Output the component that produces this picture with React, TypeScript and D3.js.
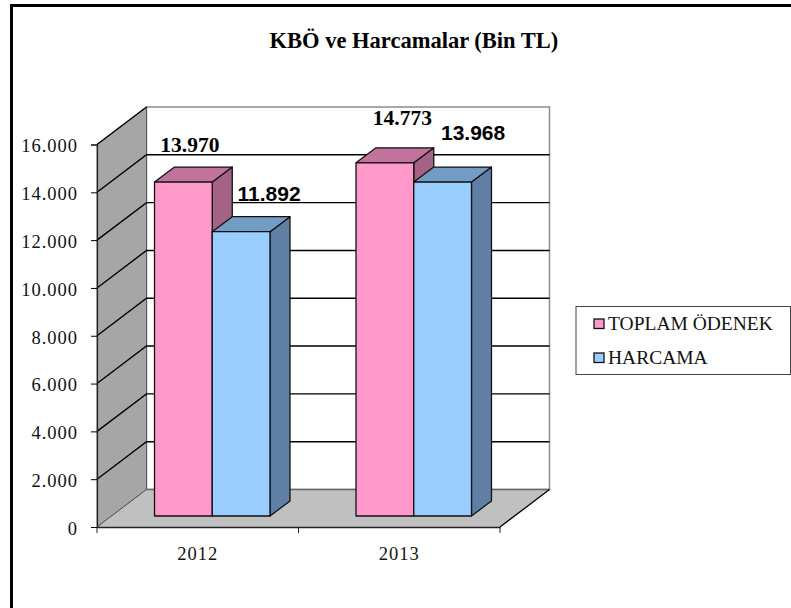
import React, { useEffect, useRef } from "react";
import * as d3 from "d3";

const categories = ["2012", "2013"];
const seriesNames = ["TOPLAM ÖDENEK", "HARCAMA"];
const toplamOdenek = [13970, 14773];
const harcama = [11892, 13968];
const toplamLabels = ["13.970", "14.773"];
const harcamaLabels = ["11.892", "13.968"];
const yTicks = [0, 2000, 4000, 6000, 8000, 10000, 12000, 14000, 16000];

const W = 791;
const H = 608;
const serif = "'Liberation Serif', 'Times New Roman', serif";
const sans = "'Liberation Sans', Arial, sans-serif";

const App = () => {
  const svgRef = useRef<SVGSVGElement>(null);

  useEffect(() => {
    const svg = d3.select(svgRef.current);
    svg.selectAll("*").remove();

    // front plane of the box and how far the back wall is pushed
    const left = 97;
    const right = 500;
    const bottom = 527;
    const top = 144.5;
    const depth = { x: 49.5, y: -37.5 };

    const x = d3.scaleBand().domain(categories).range([left, right]);
    const y = d3.scaleLinear().domain([0, 16000]).range([bottom, top]);
    const inner = d3
      .scaleBand()
      .domain(seriesNames)
      .range([0, x.bandwidth()])
      .paddingOuter(0.745)
      .paddingInner(0);

    const line = (pts: [number, number][]) => d3.line()(pts) + "Z";

    // outer frame: only the top and left edges show in the picture
    svg
      .append("path")
      .attr("d", `M11.5,${H}V5.5H${W}`)
      .attr("fill", "none")
      .attr("stroke", "#000")
      .attr("stroke-width", 3);

    svg
      .append("text")
      .attr("x", 414)
      .attr("y", 47.5)
      .attr("text-anchor", "middle")
      .attr("font-family", serif)
      .attr("font-weight", "bold")
      .attr("font-size", 22.5)
      .text("KBÖ ve Harcamalar (Bin TL)");

    const bx = left + depth.x;
    const bRight = right + depth.x;
    const by0 = bottom + depth.y;
    const byTop = top + depth.y;

    // back wall
    svg
      .append("rect")
      .attr("x", bx)
      .attr("y", byTop)
      .attr("width", bRight - bx)
      .attr("height", by0 - byTop)
      .attr("fill", "#fff")
      .attr("stroke", "#8c8c8c")
      .attr("stroke-width", 1.5);

    // side wall
    svg
      .append("path")
      .attr("d", line([[left, bottom], [left, top], [bx, byTop], [bx, by0]]))
      .attr("fill", "#a6a6a6")
      .attr("stroke", "#555")
      .attr("stroke-width", 1);

    // floor
    svg
      .append("path")
      .attr("d", line([[left, bottom], [bx, by0], [bRight, by0], [right, bottom]]))
      .attr("fill", "#c0c0c0");
    svg
      .append("path")
      .attr("d", `M${bx},${by0}H${bRight}`)
      .attr("stroke", "#666")
      .attr("stroke-width", 1.5);
    svg
      .append("path")
      .attr("d", `M${left},${bottom}L${bx},${by0}`)
      .attr("stroke", "#555")
      .attr("stroke-width", 1);
    svg
      .append("path")
      .attr("d", `M${right},${bottom}L${bRight},${by0}`)
      .attr("stroke", "#000")
      .attr("stroke-width", 1.3);

    // gridlines run along the side wall and across the back
    const grid = svg.append("g").attr("fill", "none").attr("stroke", "#000").attr("stroke-width", 1.4);
    yTicks.slice(1).forEach((t) => {
      const yy = y(t);
      const d =
        t === 16000
          ? `M${left},${yy}L${bx},${yy + depth.y}`
          : `M${left},${yy}L${bx},${yy + depth.y}H${bRight}`;
      grid.append("path").attr("d", d);
    });

    // axes
    const yAxis = svg
      .append("g")
      .attr("transform", `translate(${left},0)`)
      .call(
        d3
          .axisLeft(y)
          .tickValues(yTicks)
          .tickSize(6)
          .tickPadding(13)
          .tickFormat((d) => d3.format(",")(d as number).replace(",", "."))
      );
    yAxis.select(".domain").attr("stroke", "#222").attr("stroke-width", 1.2);
    yAxis
      .selectAll("text")
      .attr("dy", ".4em")
      .attr("font-family", serif)
      .attr("font-size", 18.5)
      .attr("fill", "#111")
      .style("letter-spacing", "1px");

    const xAxis = svg
      .append("g")
      .attr("transform", `translate(0,${bottom})`)
      .call(d3.axisBottom(x).tickSize(0).tickPadding(20));
    xAxis.select(".domain").attr("stroke", "#222").attr("stroke-width", 1.6);
    xAxis
      .selectAll("text")
      .attr("font-family", serif)
      .attr("font-size", 18.5)
      .attr("fill", "#111")
      .style("letter-spacing", "1px");
    [left, left + x.bandwidth(), right].forEach((tx) => {
      svg
        .append("line")
        .attr("x1", tx)
        .attr("x2", tx)
        .attr("y1", bottom)
        .attr("y2", bottom + 6)
        .attr("stroke", "#222")
        .attr("stroke-width", 1);
    });

    // bars sit a bit behind the front plane
    const barShift = { x: 14.5, y: -11 };
    const barDepth = { x: 20, y: -15 };
    const colors = [
      { front: "#ff99cc", top: "#c2739b", side: "#a46384" },
      { front: "#99ccff", top: "#739cc4", side: "#5f80a4" },
    ];

    const drawBar = (cat: string, s: number, value: number) => {
      const x0 = (x(cat) as number) + (inner(seriesNames[s]) as number) + barShift.x;
      const x1 = x0 + inner.bandwidth();
      const yTop = y(value) + barShift.y;
      const yBase = y(0) + barShift.y;
      const c = colors[s];
      const g = svg.append("g").attr("stroke", "#111").attr("stroke-width", 1.3).attr("stroke-linejoin", "round");
      g.append("path")
        .attr("d", line([[x1, yBase], [x1, yTop], [x1 + barDepth.x, yTop + barDepth.y], [x1 + barDepth.x, yBase + barDepth.y]]))
        .attr("fill", c.side);
      g.append("path")
        .attr("d", line([[x0, yTop], [x0 + barDepth.x, yTop + barDepth.y], [x1 + barDepth.x, yTop + barDepth.y], [x1, yTop]]))
        .attr("fill", c.top);
      g.append("rect")
        .attr("x", x0)
        .attr("y", yTop)
        .attr("width", x1 - x0)
        .attr("height", yBase - yTop)
        .attr("fill", c.front);
    };

    categories.forEach((cat, i) => {
      drawBar(cat, 0, toplamOdenek[i]);
      drawBar(cat, 1, harcama[i]);
    });

    // data labels were placed by hand in the original
    const labelOffsets = [
      [[6.5, -30], [28, -31]],
      [[17.5, -38], [30.5, -42]],
    ];
    categories.forEach((cat, i) => {
      [toplamOdenek[i], harcama[i]].forEach((v, s) => {
        const cx = (x(cat) as number) + (inner(seriesNames[s]) as number) + barShift.x + inner.bandwidth() / 2;
        const off = labelOffsets[i][s];
        svg
          .append("text")
          .attr("x", cx + off[0])
          .attr("y", y(v) + barShift.y + off[1])
          .attr("text-anchor", "middle")
          .attr("font-family", s === 0 ? serif : sans)
          .attr("font-weight", "bold")
          .attr("font-size", s === 0 ? 21.5 : 21)
          .attr("fill", "#000")
          .text(s === 0 ? toplamLabels[i] : harcamaLabels[i]);
      });
    });

    // legend
    const legend = svg.append("g");
    legend
      .append("rect")
      .attr("x", 576)
      .attr("y", 306.5)
      .attr("width", 214.5)
      .attr("height", 68)
      .attr("fill", "#fff")
      .attr("stroke", "#444")
      .attr("stroke-width", 1);
    seriesNames.forEach((name, i) => {
      const ly = 323.5 + i * 34;
      legend
        .append("rect")
        .attr("x", 594)
        .attr("y", ly - 4.5)
        .attr("width", 10)
        .attr("height", 9.5)
        .attr("fill", colors[i].front)
        .attr("stroke", "#111")
        .attr("stroke-width", 1.3);
      legend
        .append("text")
        .attr("x", 608)
        .attr("y", ly + 6.5)
        .attr("font-family", serif)
        .attr("font-size", 19.5)
        .attr("fill", "#111")
        .text(name);
    });
  }, []);

  return (
    <svg
      ref={svgRef}
      width={W}
      height={H}
      style={{ position: "absolute", left: 0, top: 0, display: "block" }}
    />
  );
};

export default App;
